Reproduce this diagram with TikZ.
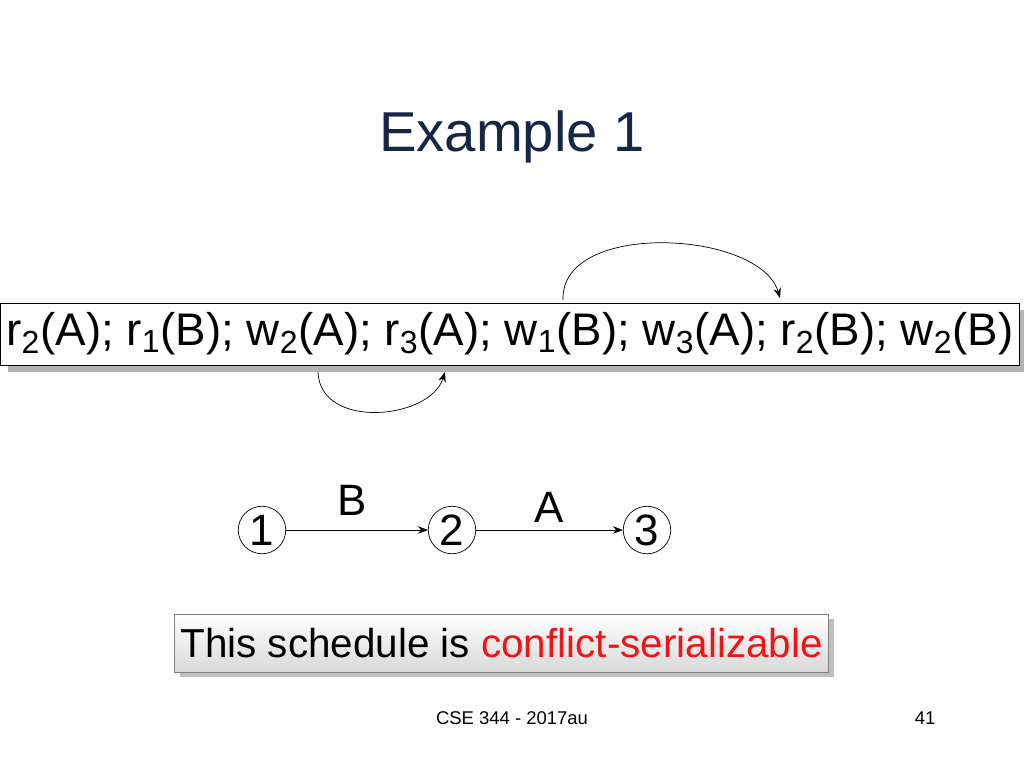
\documentclass[tikz,border=0pt]{standalone}
\usepackage{fontspec}
\setmainfont{Liberation Sans}
\definecolor{TitleNavy}{RGB}{22, 38, 70}
\definecolor{ConflictRed}{RGB}{240, 20, 20}
\usetikzlibrary{arrows.meta, positioning, shadows}

\begin{document}
\begin{tikzpicture}[x=0.02cm, y=-0.02cm,
        txn/.style={circle, draw, thin, minimum size=0.95cm, inner sep=0pt, font=\fontsize{25}{27}\selectfont},
        arrow/.style={-{Stealth[length=2mm]}},
        edgelabel/.style={font=\fontsize{25}{27}\selectfont}
    ]
    \useasboundingbox (0,0) rectangle (1024,768);

    \node[text=TitleNavy, font=\fontsize{32}{36}\selectfont] (title) at (512,137) {Example 1};

    % schedule
    \node[draw, thin, fill=white, drop shadow={shadow xshift=4pt, shadow yshift=-4pt, opacity=0.6},
          minimum width=20.08cm, minimum height=1.24cm, font=\fontsize{26}{28}\selectfont]
        (sched) at (510,334) {r\textsubscript{2}(A); r\textsubscript{1}(B); w\textsubscript{2}(A); r\textsubscript{3}(A); w\textsubscript{1}(B); w\textsubscript{3}(A); r\textsubscript{2}(B); w\textsubscript{2}(B)};

    \coordinate (w1B) at (563,300);
    \coordinate (r2B) at (780,298);
    \coordinate (w2A) at (318,372);
    \coordinate (r3A) at (445,372);
    \draw[arrow] (w1B) .. controls (560,220) and (760,230) .. (r2B);
    \draw[arrow] (w2A) .. controls (320,430) and (430,420) .. (r3A);

    % precedence graph
    \node[txn] (t1) at (262,530) {1};
    \node[txn] (t2) at (452,530) {2};
    \node[txn] (t3) at (647,530) {3};
    \draw[arrow] (t1) -- (t2);
    \draw[arrow] (t2) -- (t3);
    \node[edgelabel] (labB) at (352,500) {B};
    \node[edgelabel] (labA) at (549,507) {A};

    % verdict
    \node[draw=gray, thin, top color=white, bottom color=gray!30,
          drop shadow={shadow xshift=3pt, shadow yshift=-3pt, opacity=0.5},
          minimum width=13.06cm, minimum height=1.16cm, font=\fontsize{23}{26}\selectfont]
        (verdict) at (501.5,643) {This schedule is \textcolor{ConflictRed}{conflict-serializable}};

    \node[font=\fontsize{10.5}{12}\selectfont] (course) at (512,718) {CSE 344 - 2017au};
    \node[font=\fontsize{10.5}{12}\selectfont] (page) at (925,718) {41};
\end{tikzpicture}
\end{document}
